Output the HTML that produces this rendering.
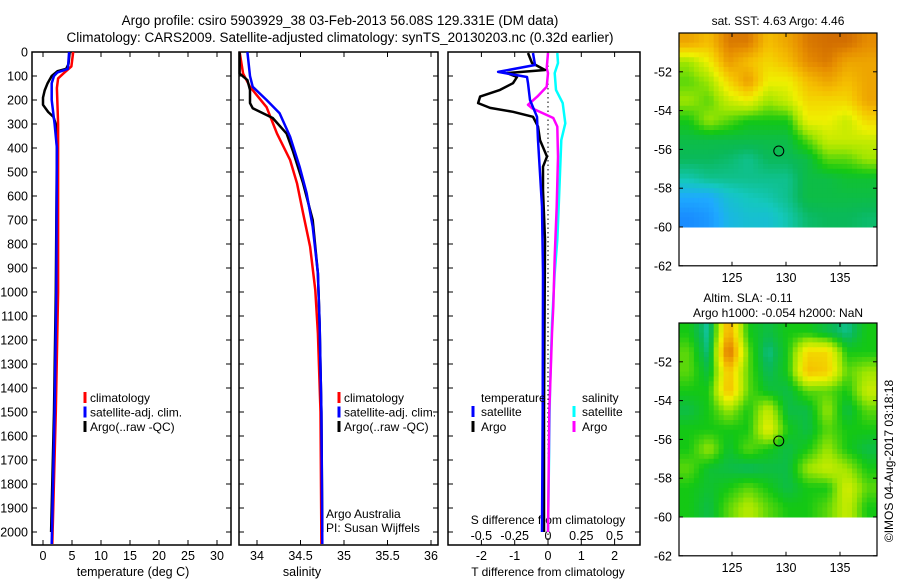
<!DOCTYPE html>
<html><head><meta charset="utf-8"><style>
html,body{margin:0;padding:0;background:#fff;}
svg{display:block;font-family:"Liberation Sans",sans-serif;}
</style></head><body>
<svg id="fig" width="900" height="580" viewBox="0 0 900 580">
<text x="340" y="25" font-size="13.5" text-anchor="middle">Argo profile: csiro 5903929_38 03-Feb-2013 56.08S 129.331E (DM data)</text>
<text x="340" y="42" font-size="13.5" text-anchor="middle">Climatology: CARS2009. Satellite-adjusted climatology: synTS_20130203.nc (0.32d earlier)</text>
</svg>
<script>
// ---------- DATA ----------
const tClimDepth=[0,60,90,110,150,300,1000,1500,2050];
const tClimVal=[5.2,4.9,3.5,2.6,2.4,2.6,2.6,2.2,1.6];
const tSatDepth=[0,70,85,100,130,200,300,400,1000,1500,2050];
const tSatVal=[4.5,4.3,2.5,1.9,1.5,1.5,2.0,2.4,2.3,2.0,1.5];
const tArgoDepth=[0,50,70,80,100,130,160,190,220,250,270,300,400,1000,1500,2000];
const tArgoVal=[4.6,4.4,4.0,2.5,1.5,0.8,0.3,0.0,0.0,0.9,1.8,2.2,2.4,2.2,1.9,1.4];

const sClimDepth=[0,90,145,230,340,450,547,672,811,992,1172,1500,2050];
const sClimVal=[33.80,33.84,33.92,34.11,34.23,34.38,34.46,34.53,34.61,34.67,34.70,34.73,34.74];
const sSatDepth=[0,100,145,200,255,353,478,588,728,922,1130,1500,2050];
const sSatVal=[33.89,33.92,33.95,34.11,34.26,34.38,34.49,34.57,34.64,34.70,34.72,34.74,34.75];
const sArgoDepth=[0,90,117,158,213,234,275,340,410,547,700,922,1130,1500,2000];
const sArgoVal=[33.80,33.80,33.89,33.92,33.92,33.95,34.18,34.34,34.41,34.53,34.64,34.70,34.72,34.74,34.75];

const dTArgoDepth=[4,46,75,88,104,130,158,186,213,233,249,270,311,367,436,478,575,783,1000,1500,2000];
const dTArgoVal=[-0.6,-0.48,-0.09,-1.23,-0.93,-1.05,-1.44,-2.04,-2.1,-1.74,-1.05,-0.45,-0.3,-0.24,-0.03,-0.15,-0.15,-0.09,-0.1,-0.12,-0.12];
const dTSatDepth=[4,54,83,104,130,200,270,367,505,644,922,1500,2000];
const dTSatVal=[-0.45,-0.39,-1.5,-0.63,-0.6,-0.54,-0.33,-0.3,-0.24,-0.18,-0.15,-0.16,-0.18];
const dSArgoDepth=[4,67,88,145,186,220,234,275,311,436,644,853,1061,1172,1500,2000];
const dSArgoVal=[0.0,-0.01,0.0,-0.01,-0.08,-0.15,-0.12,0.04,0.07,0.075,0.065,0.05,0.04,0.03,0.01,0.0];
const dSSatDepth=[4,46,88,158,213,297,367,505,644,783,922,1130,1404,2000];
const dSSatVal=[0.07,0.075,0.05,0.06,0.11,0.13,0.1,0.09,0.08,0.07,0.05,0.03,0.015,0.0];

const depthTicks=[0,100,200,300,400,500,600,700,800,900,1000,1100,1200,1300,1400,1500,1600,1700,1800,1900,2000];
const tempTicks=[0,5,10,15,20,25,30];
const salTicks=[34,34.5,35,35.5,36];
const salTickLabels=['34','34.5','35','35.5','36'];
const dTTicks=[-2,-1,0,1,2];
const dSTicks=[-0.5,-0.25,0,0.25,0.5];
const dSTickLabels=['-0.5','-0.25','0','0.25','0.5'];
const lonTicks=[125,130,135];
const latTicks=[-52,-54,-56,-58,-60,-62];

const sstGrid=[
[0.8,0.75,0.88,0.88,0.75,0.8,0.88,0.9,0.9,0.85],
[0.55,0.65,0.82,0.75,0.7,0.75,0.85,0.88,0.8,0.8],
[0.5,0.55,0.7,0.82,0.65,0.65,0.75,0.8,0.75,0.8],
[0.55,0.5,0.6,0.65,0.55,0.6,0.7,0.7,0.7,0.8],
[0.45,0.55,0.5,0.45,0.45,0.45,0.65,0.65,0.6,0.7],
[0.4,0.4,0.4,0.4,0.4,0.4,0.5,0.6,0.6,0.6],
[0.38,0.38,0.37,0.35,0.38,0.38,0.4,0.5,0.5,0.55],
[0.33,0.35,0.35,0.35,0.35,0.35,0.4,0.4,0.42,0.42],
[0.25,0.25,0.3,0.32,0.33,0.35,0.4,0.4,0.4,0.4],
[0.2,0.22,0.28,0.3,0.3,0.33,0.37,0.38,0.38,0.37]];
const slaGrid=[
[0.45,0.33,0.8,0.45,0.4,0.45,0.45,0.4,0.35,0.45],
[0.5,0.35,0.92,0.5,0.35,0.45,0.7,0.7,0.45,0.45],
[0.5,0.4,0.75,0.5,0.38,0.45,0.75,0.72,0.5,0.55],
[0.45,0.45,0.76,0.5,0.42,0.4,0.5,0.5,0.45,0.6],
[0.4,0.45,0.55,0.45,0.6,0.4,0.4,0.55,0.4,0.5],
[0.45,0.45,0.45,0.45,0.65,0.45,0.4,0.5,0.45,0.45],
[0.45,0.55,0.42,0.5,0.45,0.4,0.45,0.55,0.45,0.4],
[0.5,0.42,0.4,0.38,0.4,0.4,0.55,0.6,0.55,0.45],
[0.45,0.42,0.45,0.5,0.45,0.4,0.45,0.45,0.62,0.5],
[0.45,0.4,0.5,0.58,0.5,0.45,0.45,0.5,0.6,0.45]];
const argoLon=129.331, argoLat=-56.08;

// ---------- HELPERS ----------
const NS='http://www.w3.org/2000/svg';
const svg=document.getElementById('fig');
function mk(tag,attrs,parent){const e=document.createElementNS(NS,tag);for(const k in attrs)e.setAttribute(k,attrs[k]);(parent||svg).appendChild(e);return e;}
const Y0=52,Y1=545;
const yD=d=>Y0+d*0.24;
const xT=t=>43+5.8*t;
const xS=s=>257+87*(s-34);
const xDT=t=>548+33.3*t;
const xDS=s=>548+133.3*s;

function panel(x0,x1,name){
  const r=mk('rect',{x:x0,y:Y0,width:x1-x0,height:Y1-Y0,fill:'none',stroke:'#000','stroke-width':1.5});
  
  
  depthTicks.forEach(d=>{
    mk('line',{x1:x0,x2:x0+5,y1:yD(d),y2:yD(d),stroke:'#000'});
    mk('line',{x1:x1-5,x2:x1,y1:yD(d),y2:yD(d),stroke:'#000'});
  });
}
function series(dep,val,fx,color,name,w){
  const pts=dep.map((d,i)=>fx(val[i]).toFixed(1)+','+yD(d).toFixed(1)).join(' ');
  const p=mk('polyline',{points:pts,fill:'none',stroke:color,'stroke-width':w||2.5,'stroke-linejoin':'round'});
  
  
}
function txt(x,y,s,attrs,name){
  const t=mk('text',Object.assign({x:x,y:y,'font-size':12.5},attrs||{}));
  t.textContent=s;
  
  
  return t;
}
function xticks(vals,labels,fx,ytop,ybot,ylab,name){
  vals.forEach((v,i)=>{
    mk('line',{x1:fx(v),x2:fx(v),y1:ytop,y2:ytop+5,stroke:'#000'});
    mk('line',{x1:fx(v),x2:fx(v),y1:ybot-5,y2:ybot,stroke:'#000'});
    txt(fx(v),ylab,labels[i],{'text-anchor':'middle'},name);
  });
}
function legendMark(x,y,color,name){
  const l=mk('line',{x1:x,x2:x,y1:y-10,y2:y+1,stroke:color,'stroke-width':3});
  
  
}

// ---------- PANEL 1: temperature ----------
panel(32,231,'temperature-panel');
depthTicks.forEach(d=>txt(28,yD(d)+4.5,String(d),{'text-anchor':'end'},'depth-tick-label'));
xticks(tempTicks,tempTicks.map(String),xT,Y0,Y1,560,'temperature-tick-label');
txt(133,576,'temperature (deg C)',{'text-anchor':'middle'},'temperature-axis-title');
series(tArgoDepth,tArgoVal,xT,'#000000','temp-argo-line');
series(tClimDepth,tClimVal,xT,'#ff0000','temp-climatology-line');
series(tSatDepth,tSatVal,xT,'#0000ff','temp-satellite-line');
[['climatology','#f00'],['satellite-adj. clim.','#00f'],['Argo(..raw -QC)','#000']].forEach((e,i)=>{
  legendMark(85,402+i*14.5,e[1],'temp-legend-marker');
  txt(90,402+i*14.5,e[0],{'font-size':12},'temp-legend-entry');
});

// ---------- PANEL 2: salinity ----------
panel(239,438,'salinity-panel');
xticks(salTicks,salTickLabels,xS,Y0,Y1,560,'salinity-tick-label');
txt(302,576,'salinity',{'text-anchor':'middle'},'salinity-axis-title');
series(sClimDepth,sClimVal,xS,'#ff0000','sal-climatology-line');
series(sArgoDepth,sArgoVal,xS,'#000000','sal-argo-line');
series(sSatDepth,sSatVal,xS,'#0000ff','sal-satellite-line');
[['climatology','#f00'],['satellite-adj. clim.','#00f'],['Argo(..raw -QC)','#000']].forEach((e,i)=>{
  legendMark(339,402+i*14.5,e[1],'sal-legend-marker');
  txt(344,402+i*14.5,e[0],{'font-size':12},'sal-legend-entry');
});
txt(326,518,'Argo Australia',{'font-size':12},'argo-australia-label');
txt(326,532,'PI: Susan Wijffels',{'font-size':12},'pi-label');

// ---------- PANEL 3: differences ----------
panel(448,640,'difference-panel');
mk('line',{x1:548,x2:548,y1:Y0,y2:Y1,stroke:'#000','stroke-dasharray':'1.5,3'});
dTTicks.forEach(v=>{
  mk('line',{x1:xDT(v),x2:xDT(v),y1:Y0,y2:Y0+5,stroke:'#000'});
  mk('line',{x1:xDT(v),x2:xDT(v),y1:Y1-5,y2:Y1,stroke:'#000'});
  txt(xDT(v),560,String(v),{'text-anchor':'middle'},'dT-tick-label');
});
dSTicks.forEach((v,i)=>txt(xDS(v),540,dSTickLabels[i],{'text-anchor':'middle'},'dS-tick-label'));
txt(548,524,'S difference from climatology',{'text-anchor':'middle','font-size':12},'dS-axis-title');
txt(548,576,'T difference from climatology',{'text-anchor':'middle','font-size':12},'dT-axis-title');
series(dSSatDepth,dSSatVal,xDS,'#00ffff','dS-satellite-line');
series(dSArgoDepth,dSArgoVal,xDS,'#ff00ff','dS-argo-line');
series(dTArgoDepth,dTArgoVal,xDT,'#000000','dT-argo-line');
series(dTSatDepth,dTSatVal,xDT,'#0000ff','dT-satellite-line');
txt(481,402,'temperature',{'font-size':12},'dT-legend-title');
txt(582,402,'salinity',{'font-size':12},'dS-legend-title');
legendMark(473,416,'#00f','dT-legend-marker');txt(481,416,'satellite',{'font-size':12},'dT-legend-entry');
legendMark(473,431,'#000','dT-legend-marker');txt(481,431,'Argo',{'font-size':12},'dT-legend-entry');
legendMark(574,416,'#0ff','dS-legend-marker');txt(582,416,'satellite',{'font-size':12},'dS-legend-entry');
legendMark(574,431,'#f0f','dS-legend-marker');txt(582,431,'Argo',{'font-size':12},'dS-legend-entry');

// ---------- MAPS ----------
const ramp=[[0.15,[20,110,255]],[0.25,[30,170,255]],[0.32,[20,200,190]],[0.38,[10,185,90]],[0.45,[20,200,20]],[0.55,[160,230,0]],[0.65,[240,240,0]],[0.75,[245,190,0]],[0.85,[230,140,0]],[0.95,[190,80,0]]];
function col(v){
  if(v<=ramp[0][0])return 'rgb('+ramp[0][1]+')';
  for(let i=1;i<ramp.length;i++){if(v<=ramp[i][0]){const a=ramp[i-1],b=ramp[i],f=(v-a[0])/(b[0]-a[0]);return 'rgb('+a[1].map((c,k)=>Math.round(c+(b[1][k]-c)*f)).join(',')+')';}}
  return 'rgb('+ramp[ramp.length-1][1]+')';
}
function sample(grid,fr,fc){
  const nr=grid.length,nc=grid[0].length;
  const r=Math.min(Math.max(fr-0.5,0),nr-1),c=Math.min(Math.max(fc-0.5,0),nc-1);
  const r0=Math.floor(r),c0=Math.floor(c),r1=Math.min(r0+1,nr-1),c1=Math.min(c0+1,nc-1),a=r-r0,b=c-c0;
  return grid[r0][c0]*(1-a)*(1-b)+grid[r0][c1]*(1-a)*b+grid[r1][c0]*a*(1-b)+grid[r1][c1]*a*b;
}
function map(top,grid,name){
  const X0=679,X1=877,lonX=l=>732+(l-125)*10.8,latY=la=>top+(-50-la)*19.4;
  const g=mk('g',{});
  
  
  const nr=grid.length,nc=grid[0].length,S=4,lon0=120.1,lon1=138.4;
  for(let r=0;r<nr*S;r++)for(let c=0;c<nc*S;c++){
    const v=sample(grid,(r+0.5)/S,(c+0.5)/S);
    const la0=-50-r*10/(nr*S),la1=-50-(r+1)*10/(nr*S),lo0=lon0+c*(lon1-lon0)/(nc*S),lo1=lon0+(c+1)*(lon1-lon0)/(nc*S);
    const cell=mk('rect',{x:lonX(lo0),y:latY(la0),width:lonX(lo1)-lonX(lo0)+0.5,height:latY(la1)-latY(la0)+0.5,fill:col(v)},g);
    
    
  }
  const Yb=latY(-62);
  mk('rect',{x:X0,y:top,width:X1-X0,height:Yb-top,fill:'none',stroke:'#000','stroke-width':1.2});
  latTicks.forEach(l=>{
    mk('line',{x1:X0,x2:X0+4,y1:latY(l),y2:latY(l),stroke:'#000'});
    mk('line',{x1:X1-4,x2:X1,y1:latY(l),y2:latY(l),stroke:'#000'});
    txt(672,latY(l)+4.5,String(l),{'text-anchor':'end'},'map-lat-label');
  });
  lonTicks.forEach(l=>{
    mk('line',{x1:lonX(l),x2:lonX(l),y1:top,y2:top+4,stroke:'#000'});
    mk('line',{x1:lonX(l),x2:lonX(l),y1:Yb-4,y2:Yb,stroke:'#000'});
    txt(lonX(l),Yb+16,String(l),{'text-anchor':'middle'},'map-lon-label');
  });
  const c=mk('circle',{cx:lonX(argoLon),cy:latY(argoLat),r:5,fill:'none',stroke:'#000','stroke-width':1});
  
  
}
map(33,sstGrid,'sst-map');
txt(778,25,'sat. SST: 4.63 Argo: 4.46',{'text-anchor':'middle','font-size':12},'sst-map-title');
map(323,slaGrid,'sla-map');
txt(748,302,'Altim. SLA: -0.11',{'text-anchor':'middle','font-size':12},'sla-map-title');
txt(778,317,'Argo h1000: -0.054 h2000: NaN',{'text-anchor':'middle','font-size':12},'sla-map-subtitle');
txt(0,0,'©IMOS 04-Aug-2017 03:18:18',{'text-anchor':'middle','font-size':12,transform:'translate(893,461) rotate(-90)'},'imos-timestamp');
</script>
</body></html>
